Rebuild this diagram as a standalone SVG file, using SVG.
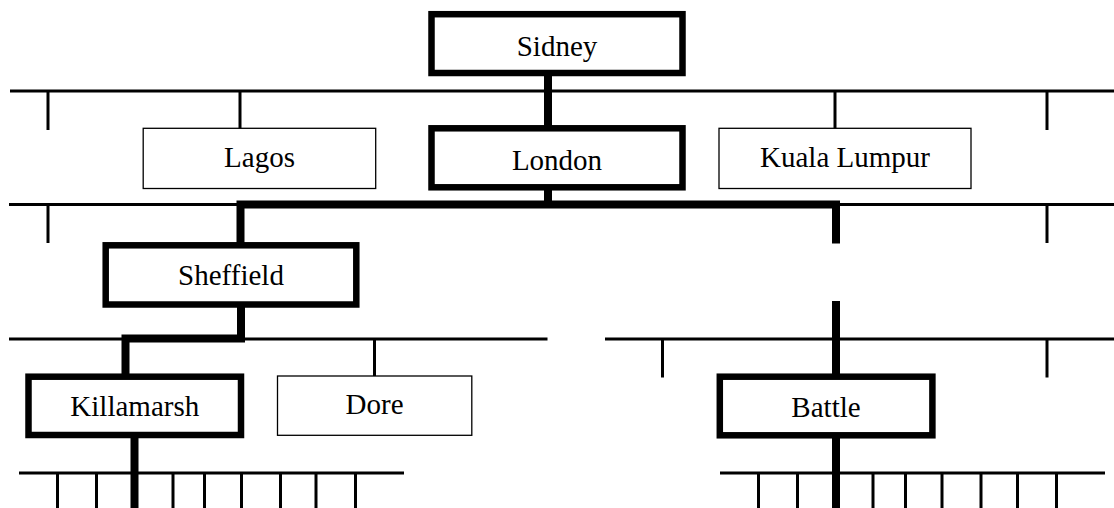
<svg xmlns="http://www.w3.org/2000/svg" width="1114" height="508" viewBox="0 0 1114 508">
<style>
.thin{stroke:#000;stroke-width:3;fill:none}
.thick{stroke:#000;stroke-width:8;fill:none;stroke-linejoin:miter;stroke-linecap:butt}
.bold{fill:#fff;stroke:#000;stroke-width:6.5}
.plain{fill:#fff;stroke:#000;stroke-width:1.3}
text{font-family:"Liberation Serif","Times New Roman",serif;font-size:29px;fill:#000;text-anchor:middle}
</style>
<rect width="1114" height="508" fill="#fff"/>
<g id="connectors">
  <line class="thin" x1="10" y1="91" x2="1114" y2="91"/>
  <line class="thin" x1="48" y1="91" x2="48" y2="130"/>
  <line class="thin" x1="240" y1="91" x2="240" y2="130"/>
  <line class="thin" x1="835" y1="91" x2="835" y2="130"/>
  <line class="thin" x1="1047" y1="91" x2="1047" y2="130"/>

  <line class="thin" x1="9" y1="204.5" x2="1114" y2="204.5"/>
  <line class="thin" x1="48" y1="204.5" x2="48" y2="243"/>
  <line class="thin" x1="1047" y1="204.5" x2="1047" y2="243"/>

  <line class="thin" x1="9" y1="339" x2="547.5" y2="339"/>
  <line class="thin" x1="374.5" y1="339" x2="374.5" y2="376"/>
  <line class="thin" x1="605" y1="339" x2="1114" y2="339"/>
  <line class="thin" x1="662.5" y1="339" x2="662.5" y2="377.5"/>
  <line class="thin" x1="1047" y1="339" x2="1047" y2="377.5"/>

  <line class="thin" x1="19" y1="473" x2="404" y2="473"/>
  <line class="thin" x1="57.5" y1="473" x2="57.5" y2="508"/>
  <line class="thin" x1="96.5" y1="473" x2="96.5" y2="508"/>
  <line class="thin" x1="173" y1="473" x2="173" y2="508"/>
  <line class="thin" x1="204.5" y1="473" x2="204.5" y2="508"/>
  <line class="thin" x1="241.5" y1="473" x2="241.5" y2="508"/>
  <line class="thin" x1="280.5" y1="473" x2="280.5" y2="508"/>
  <line class="thin" x1="316" y1="473" x2="316" y2="508"/>
  <line class="thin" x1="355.5" y1="473" x2="355.5" y2="508"/>

  <line class="thin" x1="720" y1="473" x2="1105" y2="473"/>
  <line class="thin" x1="758.5" y1="473" x2="758.5" y2="508"/>
  <line class="thin" x1="797.5" y1="473" x2="797.5" y2="508"/>
  <line class="thin" x1="873" y1="473" x2="873" y2="508"/>
  <line class="thin" x1="905.5" y1="473" x2="905.5" y2="508"/>
  <line class="thin" x1="942" y1="473" x2="942" y2="508"/>
  <line class="thin" x1="981" y1="473" x2="981" y2="508"/>
  <line class="thin" x1="1017.5" y1="473" x2="1017.5" y2="508"/>
  <line class="thin" x1="1056.5" y1="473" x2="1056.5" y2="508"/>

  <line class="thick" x1="548" y1="73" x2="548" y2="129"/>
  <line class="thick" x1="548" y1="187" x2="548" y2="205"/>
  <polyline class="thick" points="240.5,246 240.5,204.5 836,204.5 836,243.5"/>
  <polyline class="thick" points="241,304 241,338.5 125.5,338.5 125.5,377"/>
  <line class="thick" x1="836" y1="301" x2="836" y2="377"/>
  <line class="thick" x1="134.5" y1="435" x2="134.5" y2="508"/>
  <line class="thick" x1="836" y1="435" x2="836" y2="508"/>
</g>
<g id="sidney"><rect class="bold" x="431.5" y="14.2" width="251" height="58.8"/><text x="557" y="56">Sidney</text></g>
<g id="lagos"><rect class="plain" x="143.2" y="128.3" width="232.5" height="60.2"/><text x="259.5" y="167">Lagos</text></g>
<g id="london"><rect class="bold" x="431.5" y="128.3" width="251" height="59"/><text x="557" y="169.5">London</text></g>
<g id="kuala-lumpur"><rect class="plain" x="719" y="128.3" width="252" height="60.2"/><text x="845" y="167">Kuala Lumpur</text></g>
<g id="sheffield"><rect class="bold" x="105.7" y="245.3" width="250.6" height="59.2"/><text x="231" y="285">Sheffield</text></g>
<g id="killamarsh"><rect class="bold" x="28.5" y="376.7" width="212.5" height="58.3"/><text x="134.8" y="416">Killamarsh</text></g>
<g id="dore"><rect class="plain" x="277.5" y="376" width="194.3" height="59.3"/><text x="374.6" y="413.5">Dore</text></g>
<g id="battle"><rect class="bold" x="719.8" y="376.7" width="212.6" height="58.6"/><text x="826" y="416.5">Battle</text></g>
</svg>
